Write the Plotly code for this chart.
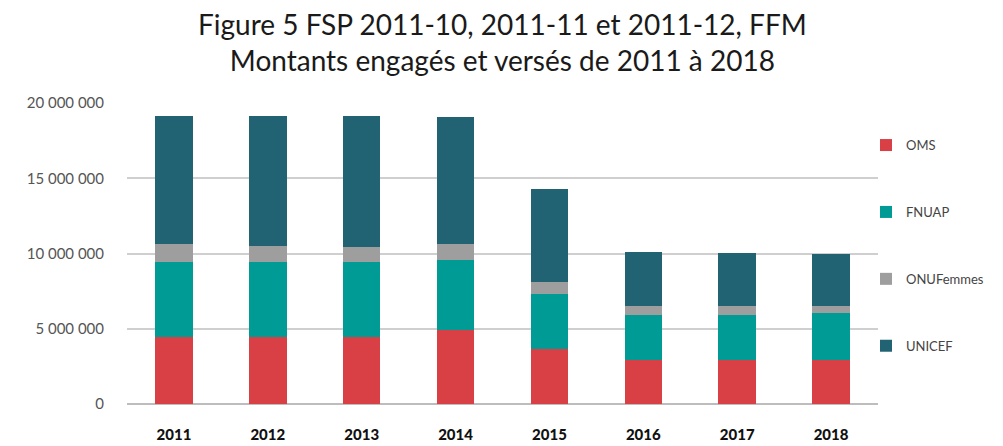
import plotly.graph_objects as go

years = ["2011", "2012", "2013", "2014", "2015", "2016", "2017", "2018"]
oms = [4420000, 4420000, 4420000, 4910000, 3670000, 2920000, 2920000, 2920000]
fnuap = [5000000, 5000000, 5000000, 4680000, 3620000, 3000000, 3000000, 3110000]
onufemmes = [1190000, 1100000, 1010000, 1020000, 800000, 620000, 620000, 510000]
unicef = [8530000, 8620000, 8710000, 8460000, 6170000, 3540000, 3470000, 3410000]
title_text = "Figure 5 FSP 2011-10, 2011-11 et 2011-12, FFM<br>Montants engagés et versés de 2011 à 2018"

series = [
    ("OMS", oms, "#D94045"),
    ("FNUAP", fnuap, "#009B95"),
    ("ONUFemmes", onufemmes, "#9E9E9E"),
    ("UNICEF", unicef, "#216372"),
]

fig = go.Figure()
for name, vals, col in series:
    fig.add_trace(go.Bar(x=years, y=vals, name=name, legendgroup=name,
                         marker=dict(color=col, line=dict(width=0))))

fig.add_annotation(
    text=title_text, xref="paper", yref="paper", x=0.5, y=1,
    xanchor="center", yanchor="bottom", yshift=24, showarrow=False,
    font=dict(family="Lato", size=28, color="#1a1a1a"), align="center",
)

fig.update_layout(
    barmode="stack",
    bargap=0.6,
    width=995, height=438,
    margin=dict(l=119, r=125, t=95, b=42, autoexpand=False),
    paper_bgcolor="white", plot_bgcolor="white",
    separators=", ",
    font=dict(family="Lato", color="#555555"),
    legend=dict(
        x=0.984, xanchor="left", y=0.91, yanchor="top",
        traceorder="grouped", tracegroupgap=47,
        font=dict(size=13, color="#444444"),
        itemwidth=30,
        bgcolor="rgba(0,0,0,0)",
    ),
    xaxis=dict(
        tickfont=dict(size=15, color="#111111", family="Lato Black, Lato"),
        showgrid=False, ticks="", showline=False, automargin=False,
        ticklabelstandoff=20,
    ),
    yaxis=dict(
        range=[0, 20000000], tickvals=[0, 5000000, 10000000, 15000000, 20000000],
        tickformat=",d", tickfont=dict(size=15, color="#555555"),
        showgrid=True, gridcolor="#CFCFCF", gridwidth=1.5,
        zeroline=True, zerolinecolor="#BDBDBD", zerolinewidth=1.5,
        ticks="", ticklabelstandoff=22, automargin=False,
    ),
)

fig.write_html("out.html")
